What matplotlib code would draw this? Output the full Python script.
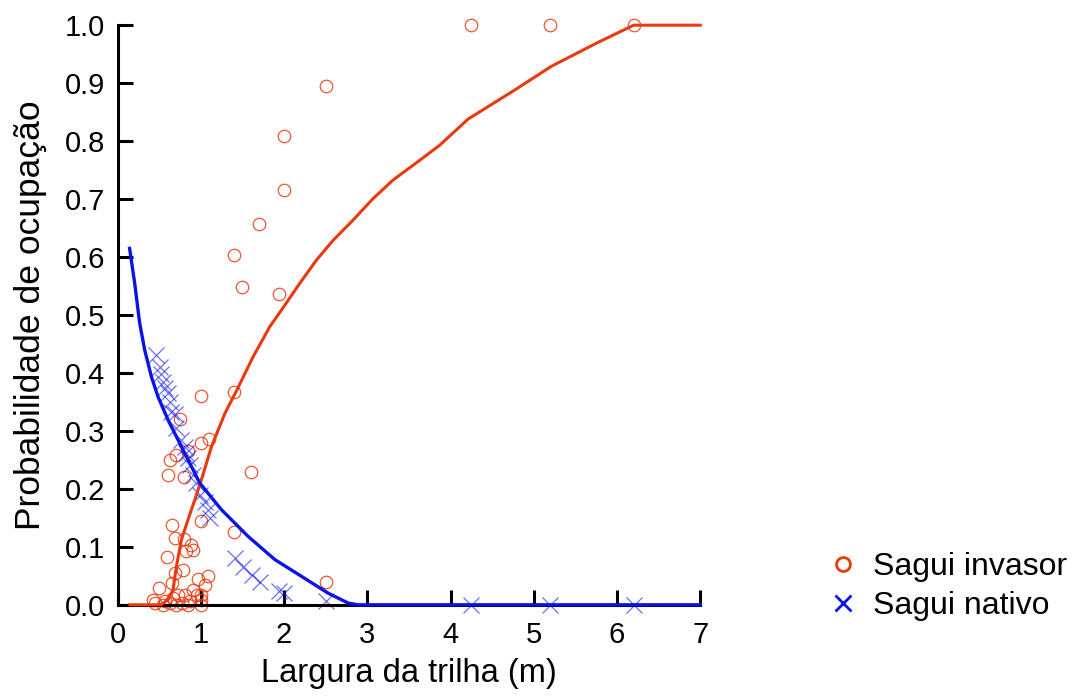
import numpy as np
import matplotlib.pyplot as plt
from matplotlib.lines import Line2D

plt.rcParams['font.family'] = ['Liberation Sans', 'DejaVu Sans']

# pontos observados - sagui invasor
inv_x = [4.24, 5.2, 6.2, 2.5, 2.0, 2.0, 1.7, 1.4, 1.5, 1.94, 1.4, 1.0, 0.75, 1.0, 1.1,
         0.7, 0.84, 0.63, 0.6, 0.8, 1.6, 1.0, 0.65, 1.4, 0.69, 0.8, 0.88, 0.9, 0.82,
         0.59, 0.78, 0.69, 0.96, 1.09, 1.05, 0.5, 0.65, 2.5, 0.91, 0.95, 0.81, 0.73,
         1.0, 0.67, 0.45, 0.57, 0.87, 1.0, 0.63, 0.77, 0.7, 0.43, 1.0, 0.55, 0.85]
inv_y = [1.0, 1.0, 1.0, 0.895, 0.809, 0.715, 0.657, 0.604, 0.549, 0.536, 0.367, 0.36,
         0.32, 0.279, 0.286, 0.259, 0.266, 0.249, 0.224, 0.22, 0.229, 0.144, 0.137,
         0.126, 0.116, 0.113, 0.104, 0.095, 0.093, 0.082, 0.06, 0.055, 0.045, 0.05,
         0.035, 0.029, 0.037, 0.04, 0.026, 0.017, 0.017, 0.017, 0.017, 0.011, 0.003,
         0.006, 0.006, 0.008, 0.003, 0.003, 0.0, 0.008, 0.0, 0.0, 0.0]

# pontos observados - sagui nativo
nat_x = [0.465, 0.505, 0.526, 0.545, 0.566, 0.606, 0.626, 0.646, 0.686, 0.706, 0.766,
         0.806, 0.826, 0.846, 0.866, 0.906, 0.946, 0.987, 1.047, 1.087, 1.107,
         1.41, 1.51, 1.61, 1.71, 1.94, 2.0, 2.5, 4.24, 5.2, 6.2]
nat_y = [0.431, 0.411, 0.399, 0.385, 0.374, 0.365, 0.35, 0.333, 0.33, 0.305, 0.284,
         0.273, 0.262, 0.253, 0.241, 0.224, 0.21, 0.19, 0.178, 0.164, 0.149,
         0.08, 0.066, 0.052, 0.04, 0.023, 0.021, 0.007, 0.0, 0.0, 0.0]

# curvas ajustadas
inv_cx = [0.15, 0.525, 0.606, 0.666, 0.706, 0.766, 0.846, 0.927, 1.007, 1.128, 1.288,
          1.448, 1.628, 1.829, 1.99, 2.19, 2.39, 2.59, 2.83, 3.07, 3.31, 3.63, 3.87,
          4.21, 4.78, 5.21, 5.78, 6.2, 7.0]
inv_cy = [0, 0, 0.009, 0.026, 0.066, 0.112, 0.147, 0.181, 0.216, 0.273, 0.33,
          0.375, 0.428, 0.48, 0.513, 0.555, 0.595, 0.629, 0.664, 0.701, 0.733, 0.767,
          0.793, 0.838, 0.889, 0.929, 0.971, 1.0, 1.0]
nat_cx = [0.144, 0.205, 0.265, 0.325, 0.405, 0.485, 0.606, 0.766, 0.987, 1.248, 1.568,
          1.889, 2.21, 2.53, 2.77, 2.89, 7.0]
nat_cy = [0.615, 0.555, 0.486, 0.44, 0.394, 0.359, 0.319, 0.273, 0.21, 0.164, 0.118,
          0.078, 0.049, 0.02, 0.003, 0, 0]

red = '#e83a10'
blue = '#0a14e6'

fig = plt.figure(figsize=(10.79, 7), dpi=100)
ax = fig.add_axes([0.109, 0.136, 0.54, 0.828])

ax.plot(inv_x, inv_y, 'o', ls='none', mfc='none', mec=red, ms=9, mew=0.9,
        alpha=0.85, clip_on=False, zorder=2)
ax.plot(nat_x, nat_y, 'x', ls='none', color=blue, ms=11, mew=0.9,
        alpha=0.6, clip_on=False, zorder=2)
ax.plot(inv_cx, inv_cy, color=red, lw=2.2, zorder=3, clip_on=False)
ax.plot(nat_cx, nat_cy, color=blue, lw=2.4, zorder=3, clip_on=False)

ax.set_xlim(0, 7)
ax.set_ylim(0, 1)
ax.set_xticks(range(0, 8))
ax.set_yticks(np.arange(0, 1.01, 0.1))
ax.set_yticklabels([f'{v:.1f}' for v in np.arange(0, 1.01, 0.1)])
for s in ['top', 'right']:
    ax.spines[s].set_visible(False)
for s in ['left', 'bottom']:
    ax.spines[s].set_linewidth(2.2)
ax.tick_params(direction='in', length=11, width=2.2, labelsize=21)
ax.tick_params(axis='y', pad=9)
ax.tick_params(axis='x', pad=12)
ax.set_xlabel('Largura da trilha (m)', fontsize=23.5, labelpad=6)
ax.set_ylabel('Probabilidade de ocupação', fontsize=25.5, labelpad=13)

handles = [Line2D([], [], marker='o', ls='none', mfc='none', mec=red, ms=10, mew=2),
           Line2D([], [], marker='x', ls='none', color=blue, ms=12, mew=2)]
fig.legend(handles, ['Sagui invasor', 'Sagui nativo'], loc='center left',
           bbox_to_anchor=(0.769, 0.162), frameon=False, fontsize=23,
           handlelength=0.8, handletextpad=0.55, labelspacing=0.3,
           borderaxespad=0, borderpad=0)

fig.savefig('out.png', dpi=100)
